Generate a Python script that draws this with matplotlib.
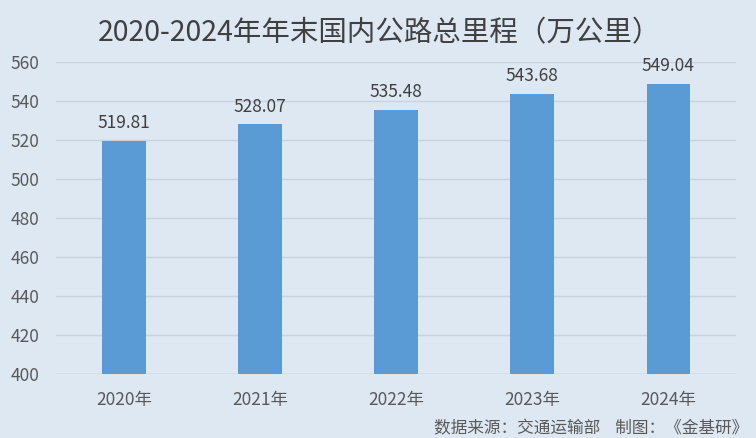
import matplotlib
matplotlib.use("Agg")
import matplotlib.pyplot as plt

plt.rcParams['font.family'] = ['Noto Sans CJK SC', 'DejaVu Sans']

years = ["2020年", "2021年", "2022年", "2023年", "2024年"]
values = [519.81, 528.07, 535.48, 543.68, 549.04]
yticks = [400, 420, 440, 460, 480, 500, 520, 540, 560]

bg = '#DEE8F3'
fig = plt.figure(figsize=(7.56, 4.38), dpi=100, facecolor=bg)
ax = fig.add_axes([0.074, 0.146, 0.90, 0.712], facecolor=bg)

x = list(range(len(years)))
ax.bar(x, values, width=0.32, color='#5B9BD5', zorder=3)
for xi, v in zip(x, values):
    ax.text(xi, v + 4.5, f"{v:.2f}", ha='center', va='bottom', fontsize=12.5, color='#404040')

ax.set_ylim(400, 560)
ax.set_xlim(-0.5, len(years) - 0.5)
ax.set_yticks(yticks)
ax.set_xticks(x)
ax.set_xticklabels(years)
ax.tick_params(axis='both', length=0, labelsize=12.5, colors='#595959')
ax.tick_params(axis='x', pad=12)
ax.tick_params(axis='y', pad=12)
ax.grid(axis='y', color='#C9D3DE', linewidth=1, zorder=0)
for s in ax.spines.values():
    s.set_visible(False)
ax.axhline(400, color='#C9D3DE', linewidth=1, zorder=2)

fig.text(0.502, 0.925, "2020-2024年年末国内公路总里程（万公里）", ha='center', va='center',
         fontsize=20.5, color='#404040')
fig.text(0.99, 0.022, "数据来源：交通运输部    制图：《金基研》", ha='right', va='center',
         fontsize=12, color='#595959')

fig.savefig("out.png", dpi=100, facecolor=bg)
